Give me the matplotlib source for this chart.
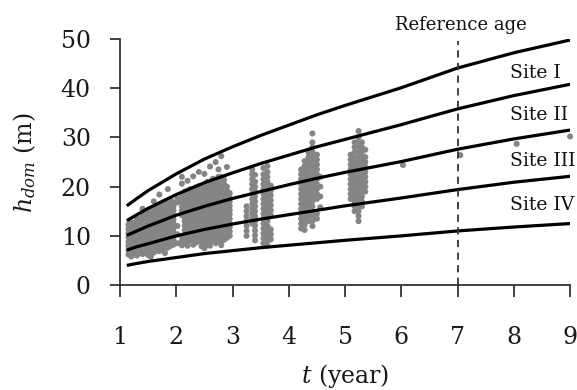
import matplotlib
matplotlib.use("Agg")
import matplotlib.pyplot as plt

# ---------------- data ----------------
t_curve = [1.12, 1.3, 1.5, 1.75, 2.0, 2.5, 3.0, 3.5, 4.0, 4.5, 5.0, 6.0, 7.0, 8.0, 9.0]
site_I   = [16.1, 17.6, 19.2, 20.9, 22.6, 25.6, 28.1, 30.4, 32.5, 34.6, 36.5, 40.1, 44.1, 47.2, 49.8]
site_II  = [13.1, 14.3, 15.6, 17.0, 18.4, 20.8, 22.8, 24.7, 26.4, 28.1, 29.6, 32.6, 35.8, 38.5, 40.8]
site_III = [10.1, 11.0, 12.0, 13.1, 14.2, 16.0, 17.6, 19.0, 20.4, 21.7, 22.9, 25.1, 27.6, 29.7, 31.5]
site_IV  = [7.1, 7.8, 8.4, 9.2, 10.0, 11.3, 12.4, 13.4, 14.3, 15.2, 16.1, 17.7, 19.4, 20.9, 22.1]
site_V   = [4.0, 4.4, 4.8, 5.2, 5.6, 6.4, 7.0, 7.6, 8.1, 8.6, 9.1, 10.0, 11.0, 11.8, 12.5]
curves = [site_I, site_II, site_III, site_IV, site_V]

site_labels = ["Site I", "Site II", "Site III", "Site IV"]
site_label_h = [43.1, 34.5, 25.2, 16.3]

reference_age = 7.0

# observed plots: ages (columns) and heights in each column
obs_col_t = [1.15, 1.20, 1.25, 1.30, 1.35, 1.40, 1.45, 1.50, 1.55, 1.60, 1.65, 1.70,
             1.75, 1.80, 1.85, 1.90, 1.95, 2.02, 2.10, 2.15, 2.20, 2.25, 2.30, 2.35,
             2.40, 2.45, 2.50, 2.55, 2.60, 2.65, 2.70, 2.75, 2.80, 2.85, 2.90, 2.95,
             3.25, 3.35, 3.40, 3.55, 3.62, 3.68,
             4.22, 4.28, 4.35, 4.42, 4.50, 4.56,
             5.10, 5.17, 5.24, 5.30, 5.36,
             6.03, 7.05, 8.05, 9.00]
obs_col_h = [
    [6.2, 7.1, 8.0, 8.8, 9.7, 10.5, 11.4, 12.3],
    [5.8, 6.7, 7.6, 8.5, 9.3, 10.2, 11.0, 11.9, 12.8],
    [6.4, 7.3, 8.2, 9.0, 9.9, 10.8, 11.6, 12.5],
    [6.0, 6.9, 7.8, 8.7, 9.5, 10.4, 11.3, 12.1, 13.0, 13.6],
    [6.5, 7.4, 8.3, 9.2, 10.0, 10.9, 11.8, 12.6, 13.5],
    [6.3, 7.2, 8.1, 9.0, 9.8, 10.7, 11.6, 12.4, 13.3, 14.1, 15.5],
    [6.8, 7.7, 8.6, 9.4, 10.3, 11.2, 12.0, 12.9, 13.8, 14.5],
    [6.1, 7.0, 7.9, 8.8, 9.6, 10.5, 11.4, 12.2, 13.1, 14.0, 14.8],
    [5.8, 6.7, 7.6, 8.4, 9.3, 10.2, 11.0, 11.9, 12.8, 13.6, 14.5, 15.2],
    [6.6, 7.5, 8.4, 9.2, 10.1, 11.0, 11.8, 12.7, 13.6, 14.4, 15.3, 17.0],
    [7.0, 7.9, 8.8, 9.6, 10.5, 11.4, 12.2, 13.1, 14.0, 14.8, 15.7],
    [6.9, 7.8, 8.7, 9.6, 10.4, 11.3, 12.2, 13.0, 13.9, 14.8, 15.6, 16.3, 18.4],
    [7.2, 8.1, 9.0, 9.8, 10.7, 11.6, 12.4, 13.3, 14.2, 15.0, 15.9, 16.6],
    [6.5, 7.4, 8.3, 9.1, 10.0, 10.9, 11.7, 12.6, 13.5, 14.3, 15.2, 16.1, 16.8],
    [7.6, 8.5, 9.4, 10.2, 11.1, 12.0, 12.8, 13.7, 14.6, 15.4, 16.3, 17.1, 19.5],
    [8.0, 8.9, 9.8, 10.6, 11.5, 12.4, 13.2, 14.1, 15.0, 15.8, 16.7, 17.3],
    [8.2, 9.1, 10.0, 10.8, 11.7, 12.6, 13.4, 14.3, 15.2, 16.0, 16.8],
    [8.5, 10.3, 12.0, 16.8, 17.6],
    [8.1, 9.0, 9.9, 14.2, 15.1, 15.9, 16.8, 17.7, 18.5, 20.6, 22.0],
    [8.6, 9.5, 10.4, 11.2, 12.1, 13.0, 13.8, 14.7, 15.6, 16.4, 17.3, 18.2, 19.0],
    [8.0, 8.9, 9.8, 10.6, 11.5, 12.4, 13.2, 14.1, 15.0, 15.8, 16.7, 17.6, 18.4, 19.2, 21.2],
    [9.1, 10.0, 10.9, 11.7, 12.6, 13.5, 14.3, 15.2, 16.1, 16.9, 17.8, 18.7, 19.5],
    [8.2, 9.1, 10.0, 10.8, 11.7, 12.6, 13.4, 14.3, 15.2, 16.0, 16.9, 17.8, 18.6, 19.4, 22.1],
    [8.6, 9.5, 10.4, 11.2, 12.1, 13.0, 13.8, 14.7, 15.6, 16.4, 17.3, 18.2, 19.0, 19.9],
    [9.0, 9.9, 10.8, 11.6, 12.5, 13.4, 14.2, 15.1, 16.0, 16.8, 17.7, 18.6, 19.4, 20.1, 23.0],
    [7.9, 8.8, 9.7, 10.5, 11.4, 12.3, 13.1, 14.0, 14.9, 15.7, 16.6, 17.5, 18.3, 19.2, 20.0],
    [7.5, 8.4, 9.3, 10.1, 11.0, 11.9, 12.7, 13.6, 14.5, 15.3, 16.2, 17.1, 17.9, 18.8, 19.7, 20.4, 22.6],
    [8.1, 9.0, 9.9, 10.7, 11.6, 12.5, 13.3, 14.2, 15.1, 15.9, 16.8, 17.7, 18.5, 19.4, 20.3, 21.0],
    [8.0, 8.9, 9.8, 10.6, 11.5, 12.4, 13.2, 14.1, 15.0, 15.8, 16.7, 17.6, 18.4, 19.3, 20.2, 21.0, 24.1],
    [9.0, 9.9, 10.8, 11.6, 12.5, 13.4, 14.2, 15.1, 16.0, 16.8, 17.7, 18.6, 19.4, 20.3, 21.2, 21.6],
    [8.5, 9.4, 10.3, 11.1, 12.0, 12.9, 13.7, 14.6, 15.5, 16.3, 17.2, 18.1, 18.9, 19.8, 20.7, 21.4, 25.0],
    [9.0, 9.9, 10.8, 11.6, 12.5, 13.4, 14.2, 15.1, 16.0, 16.8, 17.7, 18.6, 19.4, 20.3, 21.2, 22.0, 23.5],
    [8.1, 9.0, 9.9, 10.7, 11.6, 12.5, 13.3, 14.2, 15.1, 15.9, 16.8, 17.7, 18.5, 19.4, 20.3, 21.1, 22.0, 26.2],
    [9.2, 10.1, 11.0, 11.8, 12.7, 13.6, 14.4, 15.3, 16.2, 17.0, 17.9, 18.8, 19.6, 20.5, 21.4],
    [9.6, 10.5, 11.4, 12.2, 13.1, 14.0, 14.8, 15.7, 16.6, 17.4, 18.3, 19.2, 20.0, 24.0],
    [10.0, 10.9, 11.8, 12.6, 13.5, 14.4, 15.2, 16.1, 17.0, 17.8, 18.7],
    [10.0, 11.0, 12.0, 13.0, 14.0, 15.0, 16.0],
    [12.5, 13.5, 14.5, 15.5, 16.5, 17.5, 18.5, 19.5, 20.5, 21.5, 22.5, 23.5],
    [9.1, 10.1, 11.1, 12.1, 13.0, 14.0, 15.0, 16.0, 17.0, 18.0, 19.0, 20.0, 21.0, 22.4],
    [8.5, 9.5, 10.5, 11.5, 12.5, 13.5, 14.5, 15.5, 16.5, 17.5, 18.5, 19.5, 20.5, 21.5, 22.5, 23.8],
    [8.0, 9.0, 10.0, 11.0, 12.0, 13.0, 14.0, 15.0, 16.0, 17.0, 18.0, 19.0, 20.0, 21.0, 22.0, 23.0, 24.2],
    [9.3, 10.3, 11.3, 14.2, 15.2, 16.2, 17.2, 18.2, 19.2, 20.2],
    [11.5, 12.5, 13.5, 14.5, 15.5, 16.5, 17.5, 18.5, 19.5, 20.5, 21.5, 22.5, 23.5],
    [11.2, 12.2, 13.2, 14.2, 15.2, 16.2, 17.2, 18.2, 19.2, 20.2, 21.2, 22.2, 23.2, 24.2, 25.2],
    [13.0, 14.0, 15.0, 16.0, 17.0, 18.0, 19.0, 20.0, 21.0, 22.0, 23.0, 24.0, 25.0, 26.0, 27.0],
    [12.0, 13.0, 14.0, 15.0, 16.0, 17.0, 18.0, 19.0, 20.0, 21.0, 22.0, 23.0, 24.0, 25.0, 26.0, 27.0, 28.0, 29.0, 30.8],
    [13.5, 14.5, 17.5, 18.5, 19.5, 20.5, 21.5, 22.5, 23.5, 24.5, 25.5, 26.5],
    [15.8, 18.0, 20.0, 22.0],
    [17.5, 18.5, 19.5, 20.5, 21.5, 22.5, 23.5, 24.5, 25.5, 26.5],
    [15.0, 16.0, 17.0, 18.0, 19.0, 20.0, 21.0, 22.0, 23.0, 24.0, 25.0, 26.0, 27.0, 28.0, 29.0],
    [13.0, 14.0, 15.0, 16.0, 17.0, 18.0, 19.0, 20.0, 21.0, 22.0, 23.0, 24.0, 25.0, 26.0, 27.0, 28.0, 29.0, 30.0, 31.3],
    [16.0, 17.0, 18.0, 19.0, 20.0, 21.0, 22.0, 23.0, 24.0, 25.0, 26.0, 27.0, 28.0, 29.0],
    [19.0, 20.0, 21.0, 22.0, 23.0, 24.0, 25.0, 26.0, 27.5],
    [24.4], [26.4], [28.7], [30.2],
]

x_ticks = [1, 2, 3, 4, 5, 6, 7, 8, 9]
y_ticks = [0, 10, 20, 30, 40, 50]

# ---------------- plot ----------------
plt.rcParams['font.family'] = ['DejaVu Serif']
plt.rcParams['mathtext.fontset'] = 'dejavuserif'

fig = plt.figure(figsize=(5.77, 3.90), dpi=100)
ax = fig.add_axes([0.208, 0.269, 0.78, 0.631])

obs_t, obs_h = [], []
for tc, hs in zip(obs_col_t, obs_col_h):
    for h in hs:
        obs_t.append(tc)
        obs_h.append(h)
ax.scatter(obs_t, obs_h, s=19, color='#858585', edgecolors='none', zorder=2, clip_on=False)

for c in curves:
    ax.plot(t_curve, c, color='black', lw=2.3, zorder=3, solid_capstyle='butt')

ax.plot([reference_age, reference_age], [0, 49.5], color='#333333', lw=1.3,
        dashes=(4, 3), zorder=4)
ax.text(7.06, 52.8, "Reference age", ha='center', va='center', fontsize=13,
        color='#111111', clip_on=False)

for lab, h in zip(site_labels, site_label_h):
    ax.text(7.93, h, lab, ha='left', va='center', fontsize=13.5, color='#111111')

ax.set_xlim(1, 9)
ax.set_ylim(0, 50)
ax.set_xticks(x_ticks)
ax.set_yticks(y_ticks)
for s in ['top', 'right']:
    ax.spines[s].set_visible(False)
for s in ['left', 'bottom']:
    ax.spines[s].set_color('#333333')
    ax.spines[s].set_linewidth(1.3)
ax.tick_params(axis='y', direction='out', length=7.5, width=1.3, color='#333333',
               pad=13.5, labelsize=17, labelcolor='#1a1a1a')
ax.tick_params(axis='x', direction='out', length=8.5, width=1.3, color='#333333',
               pad=21, labelsize=17, labelcolor='#1a1a1a')

fig.text(25 / 577, 1 - 163 / 390, r'$h_{dom}$ (m)', rotation=90, ha='center',
         va='center', fontsize=17, color='#1a1a1a')
fig.text(345 / 577, 1 - 376 / 390, r'$t$ (year)', ha='center', va='center',
         fontsize=17, color='#1a1a1a')

fig.savefig('out.png', dpi=100)
